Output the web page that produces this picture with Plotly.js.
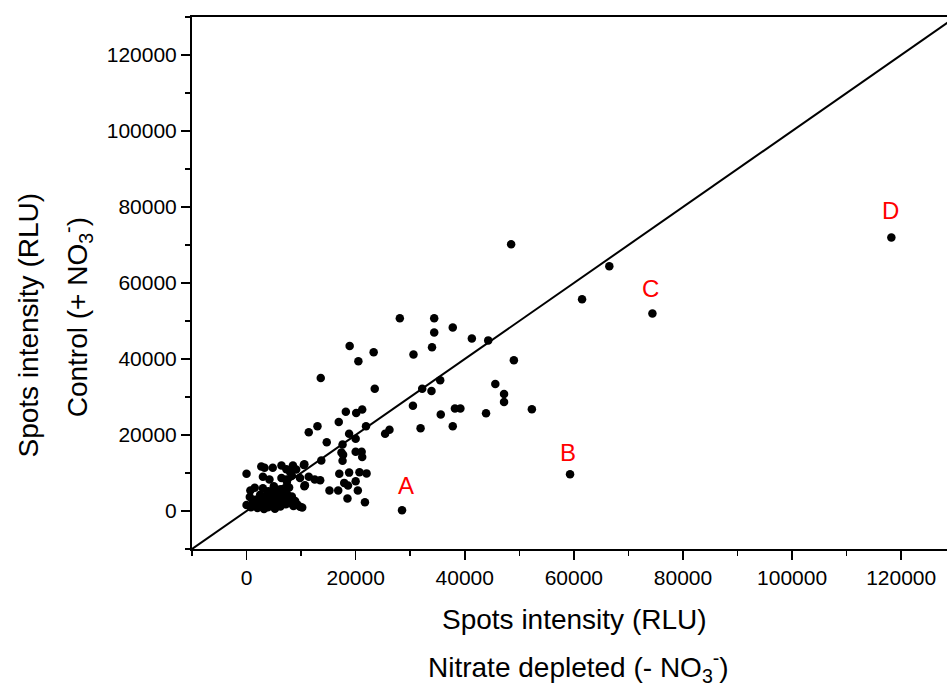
<!DOCTYPE html>
<html>
<head>
<meta charset="utf-8">
<script src="https://cdn.plot.ly/plotly-3.0.1.min.js"></script>
<style>
html,body{margin:0;padding:0;background:#fff;overflow:hidden;}
#chart{width:947px;height:686px;}
</style>
</head>
<body>
<div id="chart"></div>
<script>
// Nitrate depleted (- NO3-) spot intensity (x) vs Control (+ NO3-) spot intensity (y), RLU
const nitrateDepleted = [
  118200, 74400, 66500, 61500, 59300, 28500,
  48500, 28100, 34400, 34400, 37800, 41300, 44300, 18900, 23300, 20500, 30600, 34000, 49000, 13600,
  35500, 45600, 23500, 32200, 33900, 47200, 47200, 30500, 38200, 39200, 52300, 43900, 35600, 18200,
  20100, 21200, 16900, 13000, 11400, 21900, 31900, 37800, 25400, 26200, 18800, 20000, 14700, 17600,
  17400, 17700, 20000, 21100, 21200, 17600, 13700, 10500, 17000, 18800, 20700, 22000, 11400, 12500,
  13500, 20000, 10700, 17900, 18600, 15200, 16800, 20400, 18500, 21700,
  0, 2700, 3300, 4800, 6400, 7300, 8500, 9100, 10600,
  3000, 4200, 6400, 7300, 8000, 8300, 9800, 700, 1500, 10600, 6300, 7500, 7400,
  0, 600, 800, 1200, 1500, 1800, 2000, 2200, 2500, 2600, 2800, 3000, 3200, 3300, 3500, 3700, 3900,
  4000, 4200, 4400, 4600, 4800, 5000, 5200, 5400, 5600, 5800, 6000, 6200, 6400, 6600, 6800, 7000,
  7200, 7400, 7600, 7800, 8000, 8300, 8600, 8900, 9300, 9800, 10200, 5000, 3000
];
const controlValues = [
  72000, 52000, 64400, 55700, 9700, 200,
  70200, 50700, 50700, 47000, 48300, 45400, 44900, 43400, 41800, 39400, 41200, 43100, 39700, 35000,
  34400, 33400, 32200, 32200, 31600, 30800, 28700, 27700, 27000, 27000, 26800, 25700, 25400, 26100,
  25800, 26700, 23400, 22300, 20700, 22300, 21800, 22300, 20300, 21400, 20300, 19000, 18100, 17500,
  15400, 14800, 15600, 15600, 14200, 13200, 13300, 12100, 9800, 10100, 10200, 9900, 9000, 8300,
  8100, 7800, 6800, 7400, 6700, 5400, 5400, 5400, 3300, 2300,
  9800, 11700, 11400, 11400, 12000, 11000, 12000, 10900, 12300,
  9000, 8300, 8700, 8300, 10200, 9300, 8700, 5400, 6100, 6500, 5700, 6100, 7700,
  1600, 3700, 1000, 2400, 1500, 3000, 800, 2000, 4300, 1200, 3400, 2500, 500, 1800, 4000, 2900, 1000,
  5200, 2200, 3600, 1500, 4700, 2800, 600, 3900, 2000, 5600, 3200, 1200, 4300, 2500, 5000, 3600,
  1800, 4500, 2900, 6200, 2100, 3800, 1300, 2600, 1700, 1100, 900, 6500, 6000
];
// y = x reference line endpoints
const refLine = [-10000, 130000];
// point labels
const labelText = ["A", "B", "C", "D"];
const labelX = [29200, 58950, 74100, 118100];
const labelY = [6600, 15400, 58500, 79000];
// ticks
const xTicks = [0, 20000, 40000, 60000, 80000, 100000, 120000];
const yTicks = [0, 20000, 40000, 60000, 80000, 100000, 120000];

const FONT = 'Arial, "Liberation Sans", Helvetica, sans-serif';

const traces = [
  {
    x: refLine, y: refLine, mode: 'lines', type: 'scatter',
    line: {color: '#000', width: 2}, hoverinfo: 'skip', showlegend: false
  },
  {
    x: nitrateDepleted, y: controlValues, mode: 'markers', type: 'scatter',
    marker: {color: '#000', size: 8.5, line: {width: 0}},
    showlegend: false
  }
];

const annotations = labelText.map((t, i) => ({
  x: labelX[i], y: labelY[i], xref: 'x', yref: 'y', text: t, showarrow: false,
  font: {family: FONT, size: 24, color: '#ff0000'}, xanchor: 'center', yanchor: 'middle'
}));

annotations.push(
  {xref: 'paper', yref: 'paper', x: 0.507, y: -0.133, text: 'Spots intensity (RLU)', showarrow: false,
   font: {family: FONT, size: 28, color: '#000'}, xanchor: 'center', yanchor: 'middle'},
  {xref: 'paper', yref: 'paper', x: 0.512, y: -0.2215, text: 'Nitrate depleted (- NO<sub>3</sub><sup>-</sup>)', showarrow: false,
   font: {family: FONT, size: 28, color: '#000'}, xanchor: 'center', yanchor: 'middle'},
  {xref: 'paper', yref: 'paper', x: -0.2166, y: 0.421, text: 'Spots intensity (RLU)', showarrow: false, textangle: -90,
   font: {family: FONT, size: 28, color: '#000'}, xanchor: 'center', yanchor: 'middle'},
  {xref: 'paper', yref: 'paper', x: -0.152, y: 0.436, text: 'Control (+ NO<sub>3</sub><sup>-</sup>)', showarrow: false, textangle: -90,
   font: {family: FONT, size: 28, color: '#000'}, xanchor: 'center', yanchor: 'middle'}
);

const layout = {
  width: 947, height: 686,
  margin: {l: 192, r: 0, t: 17, b: 137},
  paper_bgcolor: '#fff', plot_bgcolor: '#fff',
  showlegend: false,
  font: {family: FONT, color: '#000'},
  xaxis: {
    range: [-10000, 128400], tickvals: xTicks, ticktext: xTicks.map(String),
    showgrid: false, zeroline: false, showline: true, linecolor: '#000', linewidth: 2, mirror: true,
    ticks: 'outside', ticklen: 9, tickwidth: 1.5, tickcolor: '#000',
    tickfont: {family: FONT, size: 21, color: '#000'},
    minor: {dtick: 10000, tick0: 0, ticks: 'outside', ticklen: 5, tickwidth: 1.5, tickcolor: '#000', showgrid: false}
  },
  yaxis: {
    range: [-10000, 130000], tickvals: yTicks, ticktext: yTicks.map(String),
    showgrid: false, zeroline: false, showline: true, linecolor: '#000', linewidth: 2, mirror: false,
    ticks: 'outside', ticklen: 9, tickwidth: 1.5, tickcolor: '#000',
    tickfont: {family: FONT, size: 21, color: '#000'},
    minor: {dtick: 10000, tick0: 0, ticks: 'outside', ticklen: 5, tickwidth: 1.5, tickcolor: '#000', showgrid: false}
  },
  annotations: annotations
};

Plotly.newPlot('chart', traces, layout, {displayModeBar: false, staticPlot: true});
</script>
</body>
</html>
